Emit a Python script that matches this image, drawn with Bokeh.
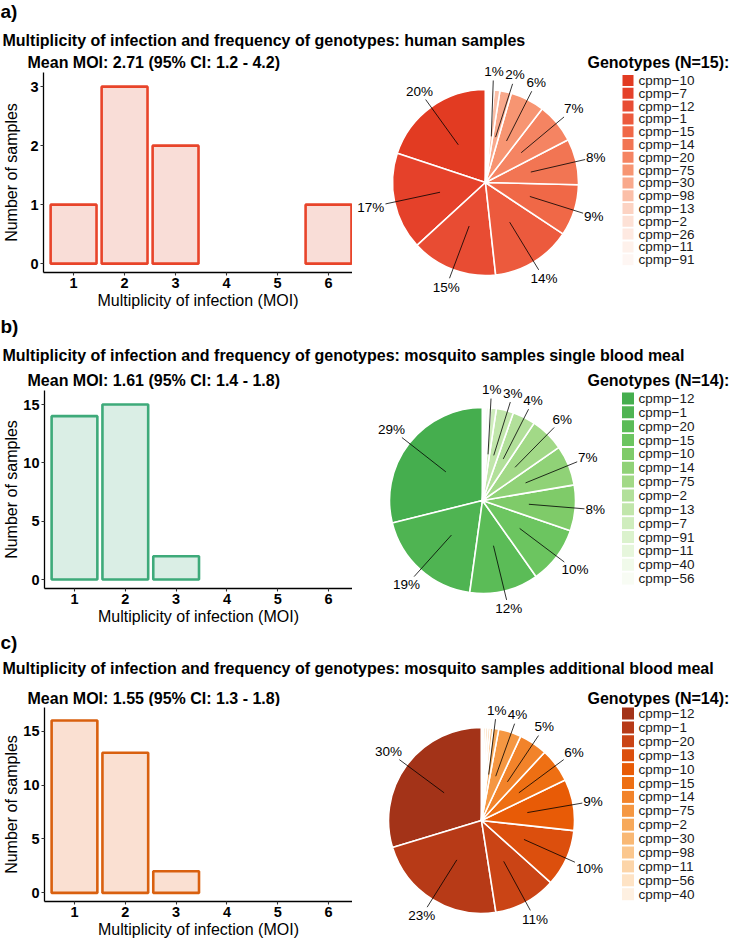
import math
from bokeh.plotting import figure
from bokeh.layouts import column, row
from bokeh.models import FixedTicker
from bokeh.core.properties import value
from bokeh.embed import file_html
from bokeh.resources import INLINE

FONT = "Liberation Sans"

# ---------------- data ----------------
moi_values = [1, 2, 3, 4, 5, 6]
human_counts = [1, 3, 2, 0, 0, 1]
single_counts = [14, 15, 2, 0, 0, 0]
additional_counts = [16, 13, 2, 0, 0, 0]

human_genotypes = ["cpmp-10", "cpmp-7", "cpmp-12", "cpmp-1", "cpmp-15", "cpmp-14", "cpmp-20",
                   "cpmp-75", "cpmp-30", "cpmp-98", "cpmp-13", "cpmp-2", "cpmp-26", "cpmp-11", "cpmp-91"]
human_percent = [20, 17, 15, 14, 9, 8, 7, 6, 2, 1, 0.4, 0.3, 0.3, 0.3, 0.2]

single_genotypes = ["cpmp-12", "cpmp-1", "cpmp-20", "cpmp-15", "cpmp-10", "cpmp-14", "cpmp-75",
                    "cpmp-2", "cpmp-13", "cpmp-7", "cpmp-91", "cpmp-11", "cpmp-40", "cpmp-56"]
single_percent = [29, 19, 12, 10, 8, 7, 6, 4, 3, 1, 0.4, 0.4, 0.3, 0.3]

additional_genotypes = ["cpmp-12", "cpmp-1", "cpmp-20", "cpmp-13", "cpmp-10", "cpmp-15", "cpmp-14",
                        "cpmp-75", "cpmp-2", "cpmp-30", "cpmp-98", "cpmp-11", "cpmp-56", "cpmp-40"]
additional_percent = [30, 23, 11, 10, 9, 6, 5, 4, 1, 0.5, 0.4, 0.4, 0.4, 0.3]

titles = ["Multiplicity of infection and frequency of genotypes: human samples",
          "Multiplicity of infection and frequency of genotypes: mosquito samples single blood meal",
          "Multiplicity of infection and frequency of genotypes: mosquito samples additional blood meal"]
mean_texts = ["Mean MOI: 2.71 (95% CI: 1.2 - 4.2)",
              "Mean MOI: 1.61 (95% CI: 1.4 - 1.8)",
              "Mean MOI: 1.55 (95% CI: 1.3 - 1.8)"]
legend_titles = ["Genotypes (N=15):", "Genotypes (N=14):", "Genotypes (N=14):"]

# ---------------- styles ----------------
reds = ["#E23B22", "#E5412A", "#E84C33", "#EC5A3D", "#F06847", "#F27553", "#F58462", "#F79572",
        "#F9A98C", "#FBBFA8", "#FCD3C3", "#FDE1D6", "#FEE9E1", "#FEF1EB", "#FEF6F3"]
greens = ["#45AE4E", "#4FB452", "#5BBC57", "#6CC560", "#7FCB69", "#90D277", "#A2D987", "#B2E09A",
          "#C1E6AB", "#CFEDBD", "#DBF2CD", "#E6F6DC", "#F0FAEA", "#F8FCF4"]
oranges = ["#A33318", "#B73A17", "#CA4415", "#DC4F0D", "#E85B06", "#EE6F13", "#F2832A", "#F59742",
           "#F7A95A", "#F9B874", "#FBC78E", "#FCD5A9", "#FEE3C5", "#FEF0E1"]

TOTAL_W = 731
BAR_W = 352
PIE_W = TOTAL_W - BAR_W


def noalign(f):
    if "frame_align" in f.properties():
        f.frame_align = False
    return f


def disp(name):
    return name.replace("-", "\u2212")


def blank(w, h, yflip=True):
    f = figure(width=w, height=h, x_range=(0, w), y_range=(h, 0) if yflip else (0, h),
               x_axis_type=None, y_axis_type=None, toolbar_location=None,
               output_backend="svg", min_border=0, outline_line_color=None)
    return noalign(f)


def make_header(letter, title, h, letter_y, title_y):
    f = blank(TOTAL_W, h)
    f.text(x=[0], y=[letter_y], text=[letter], text_font=value(FONT), text_font_style="bold",
           text_font_size="19px", text_baseline="middle", text_color="black")
    f.text(x=[2], y=[title_y], text=[title], text_font=value(FONT), text_font_style="bold",
           text_font_size="16px", text_baseline="middle", text_color="black")
    return f


def make_mean(text, h, cy):
    f = blank(BAR_W, h)
    f.text(x=[27], y=[cy], text=[text], text_font=value(FONT), text_font_style="bold",
           text_font_size="16px", text_baseline="middle", text_color="black")
    return f


def make_bar(counts, h, top_b, frame_h, yr, yticks, line_col, fill_col, ylab_standoff):
    p = figure(width=BAR_W, height=h, x_range=(0.41, 6.47), y_range=yr,
               toolbar_location=None, output_backend="svg",
               min_border_left=43, min_border_right=0, min_border_top=top_b,
               min_border_bottom=h - top_b - frame_h, outline_line_color=None)
    noalign(p)
    xs = [m for m, c in zip(moi_values, counts) if c > 0]
    ts = [c for c in counts if c > 0]
    p.vbar(x=xs, top=ts, bottom=0, width=0.9, fill_color=fill_col, line_color=line_col, line_width=2.6)
    p.grid.visible = False
    p.xaxis.ticker = FixedTicker(ticks=moi_values)
    p.yaxis.ticker = FixedTicker(ticks=yticks)
    p.xaxis.axis_label = "Multiplicity of infection (MOI)"
    p.yaxis.axis_label = "Number of samples"
    for ax in (p.xaxis, p.yaxis):
        ax.axis_line_color = "black"
        ax.axis_line_width = 1.3
        ax.major_tick_line_color = "#333333"
        ax.major_tick_line_width = 1.1
        ax.major_tick_out = 3
        ax.major_tick_in = 0
        ax.minor_tick_line_color = None
        ax.major_label_text_font = FONT
        ax.major_label_text_font_style = "bold"
        ax.major_label_text_font_size = "14.5px"
        ax.major_label_text_color = "black"
        ax.major_label_standoff = 2
        ax.axis_label_text_font = FONT
        ax.axis_label_text_font_style = "normal"
        ax.axis_label_text_font_size = "16px"
        ax.axis_label_text_color = "black"
    p.xaxis.axis_label_standoff = 1
    p.yaxis.axis_label_standoff = ylab_standoff
    return p


def make_pie(names, pcts, colors, legend_title, H, leg_y, cx, pie_cy, entry_y0, step, key):
    q = blank(PIE_W, H, yflip=False)
    cy = H - pie_cy
    r = 93
    total = float(sum(pcts))
    fr = [v / total for v in pcts]
    starts, ends, mids = [], [], []
    c = 0.0
    for f_ in fr:
        starts.append(math.pi / 2 + 2 * math.pi * c)
        mids.append(360.0 - 360.0 * (c + f_ / 2))  # clockwise from top, degrees
        c += f_
        ends.append(math.pi / 2 + 2 * math.pi * c)
    n = len(pcts)
    q.wedge(x=[cx] * n, y=[cy] * n, radius=r, start_angle=starts, end_angle=ends,
            fill_color=colors, line_color="white", line_width=1.6)

    # labels with simple angular repel
    lab = sorted([(mids[i], i) for i in range(n) if pcts[i] >= 1])
    ang = [a for a, _ in lab]
    gap = 11.0
    for _ in range(200):
        for j in range(len(ang) - 1):
            d = ang[j + 1] - ang[j]
            if d < gap:
                s = (gap - d) / 2
                ang[j] -= s
                ang[j + 1] += s
    x0s, y0s, x1s, y1s, lx, ly, lt = [], [], [], [], [], [], []
    for (m, i), a in zip(lab, ang):
        tm = math.radians(m)
        ta = math.radians(a)
        x0s.append(cx + 0.5 * r * math.sin(tm))
        y0s.append(cy + 0.5 * r * math.cos(tm))
        ex = cx + 1.1 * r * math.sin(ta)
        ey = cy + 1.1 * r * math.cos(ta)
        x1s.append(ex)
        y1s.append(ey)
        txt = "%g%%" % pcts[i]
        hw = len(txt) * 4.1
        hh = 6.5
        dx, dy = math.sin(ta), math.cos(ta)
        t = min(hw / max(abs(dx), 1e-6), hh / max(abs(dy), 1e-6))
        lx.append(ex + (t + 2.5) * dx)
        ly.append(ey + (t + 2.5) * dy)
        lt.append(txt)
    q.segment(x0=x0s, y0=y0s, x1=x1s, y1=y1s, line_color="black", line_width=0.8)
    q.text(x=lx, y=ly, text=lt, text_font=value(FONT), text_font_size="13.5px",
           text_align="center", text_baseline="middle", text_color="black")

    # legend
    q.text(x=[235], y=[H - leg_y], text=[legend_title], text_font=value(FONT),
           text_font_style="bold", text_font_size="16px", text_baseline="middle", text_color="black")
    ky = [H - (entry_y0 + k * step) for k in range(n)]
    q.rect(x=[275.5] * n, y=ky, width=key, height=key, fill_color=colors, line_color=None)
    q.text(x=[286] * n, y=ky, text=[disp(s) for s in names], text_font=value(FONT),
           text_font_size="13.5px", text_baseline="middle", text_color="#1a1a1a")
    return q


def panel(letter, idx, hh, letter_y, title_y, hm, mean_y, bar_h, top_b, frame_h, counts, yr,
          yticks, lc, fc, ystand, names, pcts, colors, cx, pie_cy, entry_y0, step, key):
    header = make_header(letter, titles[idx], hh, letter_y, title_y)
    mean = make_mean(mean_texts[idx], hm, mean_y)
    bar = make_bar(counts, bar_h, top_b, frame_h, yr, yticks, lc, fc, ystand)
    pie = make_pie(names, pcts, colors, legend_titles[idx], hm + bar_h, mean_y, cx, pie_cy,
                   entry_y0, step, key)
    return column(header, row(column(mean, bar), pie))


pa = panel("a)", 0, 52, 11, 40, 20, 10, 243, 0, 200, human_counts, (-0.15, 3.24), [0, 1, 2, 3],
           "#E8442A", "#F9DDD7", 7, human_genotypes, human_percent, reds, 133, 130, 28, 12.8, 11)
pb = panel("b)", 1, 52, 11, 40, 23, 13, 240, 0, 198, single_counts, (-0.77, 16.2), [0, 5, 10, 15],
           "#3EAA7A", "#DAEEE5", 0, single_genotypes, single_percent, greens, 130, 133, 31, 13.85, 12)
pc = panel("c)", 2, 50, 12, 38, 26, 18, 234, 1, 194, additional_counts, (-0.8, 17.2), [0, 5, 10, 15],
           "#D9600F", "#FAE0D2", 0, additional_genotypes, additional_percent, oranges, 129, 140, 33, 13.9, 12)

layout = column(pa, pb, pc)
open("out.html", "w").write(file_html(layout, INLINE))
